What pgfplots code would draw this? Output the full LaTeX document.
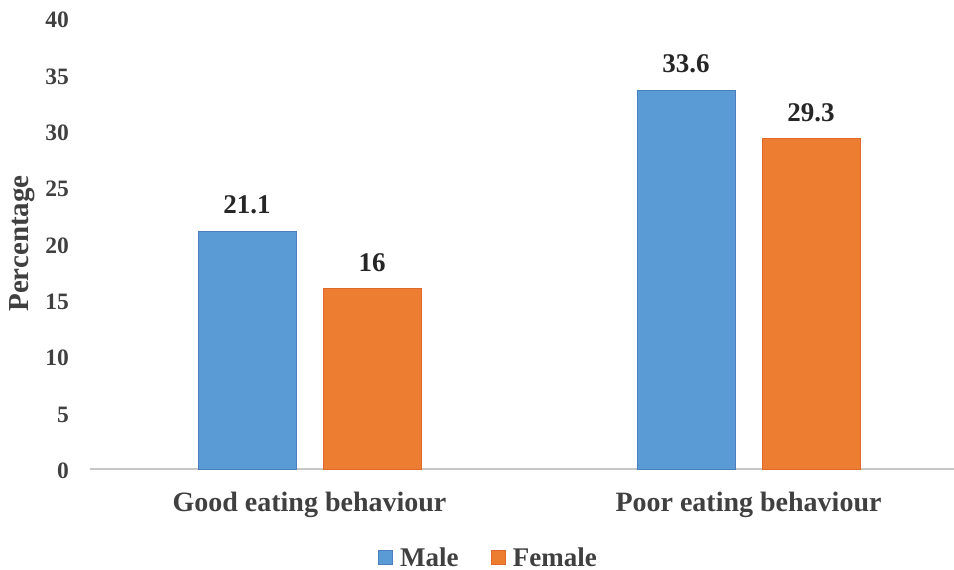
\documentclass[border=0pt]{standalone}
\usepackage{pgfplots}
\pgfplotsset{compat=1.18}
\usepackage{fontspec}
\setmainfont{Liberation Serif}
\definecolor{mblue}{HTML}{5B9BD5}
\definecolor{mblueE}{HTML}{4A7EC0}
\definecolor{morange}{HTML}{ED7D31}
\definecolor{morangeE}{HTML}{E0682A}
\definecolor{txt}{HTML}{404040}
\definecolor{dtxt}{HTML}{262626}
\begin{document}
\begin{tikzpicture}
\useasboundingbox (-90bp,-101bp) rectangle (864bp,469bp);
\begin{axis}[
  at={(0,0)}, anchor=south west,
  scale only axis, width=864bp, height=451bp,
  xmin=-0.5, xmax=1.468, ymin=0, ymax=40,
  ybar=27bp, bar width=98bp,
  axis x line*=bottom, axis y line*=left,
  y axis line style={draw=none},
  x axis line style={draw=black!22, line width=1.2bp, -},
  major tick length=0pt,
  xtick={0,1}, xticklabels={Good eating behaviour, Poor eating behaviour},
  ytick={0,5,...,40},
  /pgf/number format/assume math mode=true,
  yticklabel style={font=\fontsize{23.5bp}{25bp}\selectfont\bfseries, text=txt, inner sep=0pt, anchor=east, xshift=-21bp, yshift=-2bp},
  xticklabel style={font=\fontsize{28bp}{30bp}\selectfont\bfseries, text=txt, inner sep=0pt, anchor=center, yshift=-36bp},
  ylabel={Percentage},
  ylabel style={font=\fontsize{29bp}{31bp}\selectfont\bfseries, text=txt, at={(axis description cs:-0.0787,0.5)}, anchor=center},
  nodes near coords,
  point meta=explicit symbolic,
  every node near coord/.append style={font=\fontsize{27bp}{30bp}\selectfont\bfseries, text=dtxt, anchor=center, yshift=26bp},
  legend columns=2,
  legend style={draw=none, at={(0.461,-0.196)}, anchor=center, font=\fontsize{27bp}{30bp}\selectfont\bfseries, text=txt,
    /tikz/every even column/.append style={column sep=30bp}},
  legend image code/.code={\draw[#1, line width=0.8bp] (0bp,-7bp) rectangle (14bp,7bp); \path[draw=none,fill=none] (0bp,0bp) -- (20bp,0bp);},
]
\addplot[fill=mblue, draw=mblueE, line width=0.8bp] coordinates {(0,21.1) [21.1] (1,33.6) [33.6]};
\addplot[fill=morange, draw=morangeE, line width=0.8bp] coordinates {(0,16) [16] (1,29.3) [29.3]};
\legend{Male, Female}
\end{axis}
\end{tikzpicture}
\end{document}
